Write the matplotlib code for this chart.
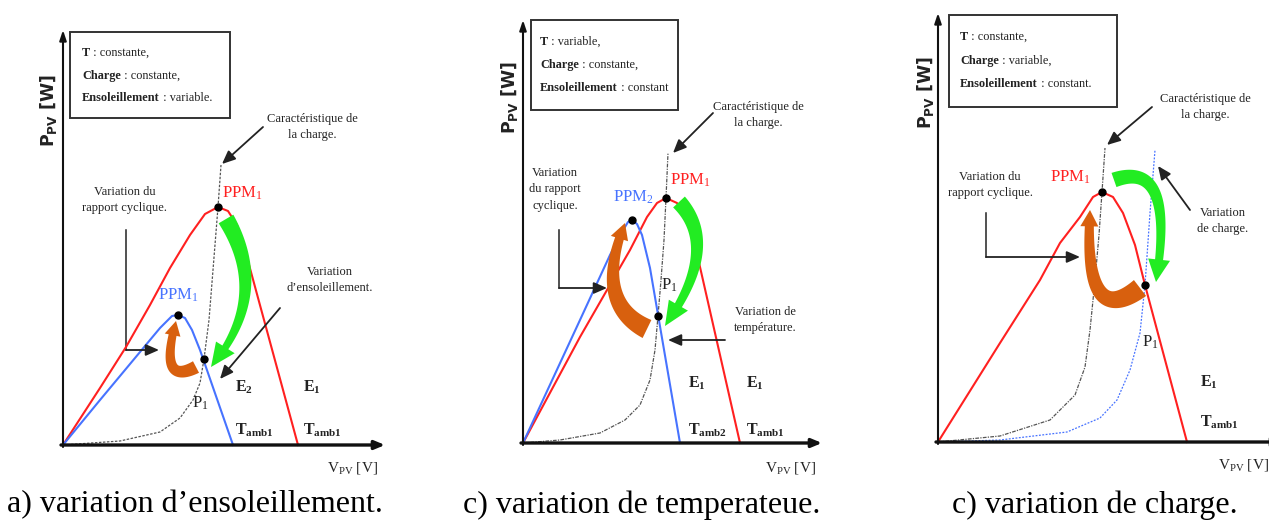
import numpy as np
import matplotlib
matplotlib.use("Agg")
import matplotlib.pyplot as plt
from matplotlib.patches import Rectangle

plt.rcParams["font.family"] = ["Liberation Serif", "DejaVu Serif"]
plt.rcParams["mathtext.fontset"] = "custom"
plt.rcParams["mathtext.rm"] = "Liberation Serif"
plt.rcParams["mathtext.it"] = "Liberation Serif:italic"
plt.rcParams["mathtext.bf"] = "Liberation Serif:bold"
plt.rcParams["mathtext.default"] = "regular"

W, H = 1269, 530

# ---- panel (a): irradiance change --------------------------------------
a_red_v = [0, 37, 63, 87, 107, 127, 142, 155, 165, 174, 182, 235]
a_red_p = [0, 57, 98, 140, 177, 210, 231, 238, 234, 220, 195, 0]
a_blue_v = [0, 37, 77, 97, 109, 115, 122, 129, 137, 170]
a_blue_p = [0, 45, 93, 117, 129, 130, 127, 115, 95, 0]
a_load_v = [0, 57, 97, 117, 130, 137, 141, 146, 150, 155, 158]
a_load_p = [0, 4, 13, 27, 45, 62, 86, 125, 175, 238, 280]

# ---- panel (b): temperature change -------------------------------------
b_red_v = [0, 57, 84, 107, 124, 134, 143, 154, 164, 172, 217]
b_red_p = [0, 106, 153, 193, 226, 240, 245, 240, 223, 198, 0]
b_blue_v = [0, 57, 87, 99, 105, 109, 114, 119, 127, 157]
b_blue_p = [0, 123, 188, 211, 221, 223, 219, 208, 175, 0]
b_load_v = [0, 37, 77, 102, 117, 127, 132, 135, 138, 141, 143, 145]
b_load_p = [0, 3, 10, 23, 38, 63, 93, 127, 163, 203, 245, 290]

# ---- panel (c): load change --------------------------------------------
c_red_v = [0, 62, 102, 122, 142, 155, 164, 175, 185, 197, 207, 249]
c_red_p = [0, 99, 162, 199, 225, 245, 250, 245, 229, 197, 157, 0]
c_load1_v = [0, 62, 112, 137, 147, 152, 157, 161, 164, 167]
c_load1_p = [0, 6, 22, 47, 75, 112, 162, 207, 250, 294]
c_load2_v = [0, 62, 129, 162, 179, 192, 202, 207, 212, 217]
c_load2_p = [0, 2, 10, 24, 42, 72, 109, 157, 229, 292]

captions = ["a) variation d\u2019ensoleillement.",
            "c) variation de temperateue.",
            "c) variation de charge."]
box_keys = ["T", "Charge", "Ensoleillement"]
box_vals = [[": constante,", ": constante,", ": variable."],
            [": variable,", ": constante,", ": constant"],
            [": constante,", ": variable,", ": constant."]]

RED = "#ff2020"
BLUE = "#4773ff"
GREEN = "#22ec22"
ORANGE = "#d8600e"
LOAD = "#555555"

fig = plt.figure(figsize=(W / 100, H / 100), dpi=100)


def panel_axes(x0, x1, ox, oy):
    ax = fig.add_axes([x0 / W, 0, (x1 - x0) / W, 1])
    ax.set_xlim(x0 - ox, x1 - ox)
    ax.set_ylim(oy - H, oy)
    ax.axis("off")
    return ax


def draw_axes(ax, vmax, pmax, ylab_xy, xlab_xy, cap_xy, caption):
    ax.annotate("", xy=(vmax, 0), xytext=(-2, 0), annotation_clip=False,
                arrowprops=dict(arrowstyle="-|>,head_length=0.6,head_width=0.25",
                                lw=2.4, color="#111111", shrinkA=0, shrinkB=0))
    ax.annotate("", xy=(0, pmax), xytext=(0, -2), annotation_clip=False,
                arrowprops=dict(arrowstyle="-|>,head_length=0.6,head_width=0.2",
                                lw=1.5, color="#111111", shrinkA=0, shrinkB=0))
    ax.text(*ylab_xy, r"P$_{PV}$ [W]", rotation=90, ha="center", va="center",
            fontsize=12.5, fontweight="bold", family=["DejaVu Sans"], color="#222222")
    ax.text(*xlab_xy, r"V$_{PV}$ [V]", ha="center", va="center", fontsize=11,
            color="#222222")
    ax.text(*cap_xy, caption, ha="center", va="center", fontsize=23, color="black")


def info_box(ax, left, bottom, right, top, x, ys, vals):
    ax.add_patch(Rectangle((left, bottom), right - left, top - bottom, fill=False,
                           lw=1.4, edgecolor="#333333"))
    for y, k, v in zip(ys, box_keys, vals):
        t = ax.text(x, y, k, fontweight="bold", fontsize=8.8, ha="left", va="center",
                    color="#222222")
        ax.annotate(" " + v, xy=(1, 0), xycoords=t, ha="left", va="bottom",
                    fontsize=8.8, color="#222222")


def pointer(ax, start, end):
    ax.annotate("", xy=end, xytext=start, annotation_clip=False,
                arrowprops=dict(arrowstyle="-|>,head_length=0.8,head_width=0.35",
                                lw=1.3, color="#222222", shrinkA=0, shrinkB=0))


def elbow_pointer(ax, top, corner, end):
    ax.plot([top[0], corner[0]], [top[1], corner[1]], color="#222222", lw=1.1)
    pointer(ax, corner, end)


def fat_arrow(ax, p0, ctrl, tip, w0, w1, hw, hl, color):
    p0, ctrl, tip = map(np.asarray, (p0, ctrl, tip))
    t = np.linspace(0, 1, 200)[:, None]
    pts = (1 - t) ** 2 * p0 + 2 * (1 - t) * t * ctrl + t ** 2 * tip
    seg = np.hypot(*np.diff(pts, axis=0).T)
    s = np.concatenate([[0], np.cumsum(seg)])
    keep = s <= s[-1] - hl
    body = pts[keep]
    d = np.gradient(body, axis=0)
    d /= np.hypot(d[:, 0], d[:, 1])[:, None]
    n = np.stack([-d[:, 1], d[:, 0]], axis=1)
    w = np.linspace(w0, w1, len(body))[:, None] / 2
    left = body + n * w
    right = body - n * w
    base, nb = body[-1], n[-1]
    head = [base + nb * hw / 2, tip, base - nb * hw / 2]
    poly = np.vstack([left, head, right[::-1]])
    ax.fill(poly[:, 0], poly[:, 1], color=color, lw=0, zorder=4)


lab = dict(ha="left", va="center", fontsize=12)
sm = dict(ha="center", va="center", fontsize=9, color="#222222", linespacing=1.5)
et = dict(ha="left", va="center", fontsize=11.5, fontweight="bold", color="#222222")

# ------------------------------ panel (a)
ax = panel_axes(0, 420, 63, 445)
ax.plot(a_load_v, a_load_p, color=LOAD, lw=0.9, ls=(0, (2, 1.2)), zorder=2)
ax.plot(a_red_v, a_red_p, color=RED, lw=1.5, zorder=3)
ax.plot(a_blue_v, a_blue_p, color=BLUE, lw=1.5, zorder=3)
draw_axes(ax, 322, 415, (-15, 335), (289, -23), (132, -60), captions[0])
info_box(ax, 7, 327, 167, 413, 19, [392, 369, 347], box_vals[0])
fat_arrow(ax, (163, 226), (208, 150), (148, 78), 17, 7, 22, 24, GREEN)
fat_arrow(ax, (133, 78), (95, 58), (113, 124), 13, 8, 16, 14, ORANGE)
ax.plot([a_red_v[7], a_blue_v[5], a_load_v[6]], [a_red_p[7], a_blue_p[5], a_load_p[6]],
        "o", color="black", ms=5, zorder=6)
ax.text(159, 252, r"PPM$_1$", color=RED, **lab)
ax.text(95, 150, r"PPM$_1$", color=BLUE, **lab)
ax.text(129, 42, r"P$_1$", color="#222222", **lab)
ax.text(172, 58, r"E$_2$", **et)
ax.text(240, 58, r"E$_1$", **et)
ax.text(172, 15, r"T$_{amb1}$", **et)
ax.text(240, 15, r"T$_{amb1}$", **et)
ax.text(249, 318, "Caractéristique de\nla charge.", **sm)
pointer(ax, (200, 318), (159, 281))
ax.text(62, 245, "Variation du\nrapport cyclique.", **sm)
elbow_pointer(ax, (63, 215), (63, 95), (96, 95))
ax.text(267, 165, "Variation\nd\u2019ensoleillement.", **sm)
pointer(ax, (217, 137), (157, 66))

# ------------------------------ panel (b)
ax = panel_axes(420, 850, 523, 443)
ax.plot(b_load_v, b_load_p, color=LOAD, lw=0.9, ls=(0, (3, 1, 1, 1)), zorder=2)
ax.plot(b_red_v, b_red_p, color=RED, lw=1.5, zorder=3)
ax.plot(b_blue_v, b_blue_p, color=BLUE, lw=1.5, zorder=3)
draw_axes(ax, 299, 423, (-13, 346), (267, -25), (119, -62), captions[1])
info_box(ax, 8, 333, 155, 423, 17, [401, 378, 355], box_vals[1])
fat_arrow(ax, (156, 241), (198, 196), (142, 117), 16, 8, 22, 24, GREEN)
fat_arrow(ax, (124, 114), (70, 140), (102, 220), 20, 9, 18, 16, ORANGE)
ax.plot([b_red_v[6], b_blue_v[5], b_load_v[7]], [b_red_p[6], b_blue_p[5], b_load_p[7]],
        "o", color="black", ms=5, zorder=6)
ax.text(147, 263, r"PPM$_1$", color=RED, **lab)
ax.text(90, 246, r"PPM$_2$", color=BLUE, **lab)
ax.text(138, 158, r"P$_1$", color="#222222", **lab)
ax.text(165, 60, r"E$_1$", **et)
ax.text(223, 60, r"E$_1$", **et)
ax.text(165, 13, r"T$_{amb2}$", **et)
ax.text(223, 13, r"T$_{amb1}$", **et)
ax.text(235, 328, "Caractéristique de\nla charge.", **sm)
pointer(ax, (190, 330), (150, 290))
ax.text(32, 254, "Variation\ndu rapport\ncyclique.", **sm)
elbow_pointer(ax, (36, 213), (36, 155), (84, 155))
ax.text(242, 123, "Variation de\ntempérature.", **sm)
pointer(ax, (202, 103), (145, 103))

# ------------------------------ panel (c)
ax = panel_axes(850, 1269, 938, 442)
ax.plot(c_load1_v, c_load1_p, color=LOAD, lw=0.9, ls=(0, (3, 1, 1, 1)), zorder=2)
ax.plot(c_load2_v, c_load2_p, color=BLUE, lw=0.9, ls=(0, (1.5, 1.2)), zorder=2)
ax.plot(c_red_v, c_red_p, color=RED, lw=1.5, zorder=3)
draw_axes(ax, 345, 429, (-13, 350), (305, -23), (157, -63), captions[2])
info_box(ax, 11, 335, 179, 427, 22, [405, 381, 358], box_vals[2])
fat_arrow(ax, (176, 262), (238, 284), (218, 160), 15, 8, 22, 22, GREEN)
fat_arrow(ax, (202, 154), (145, 110), (152, 232), 20, 9, 18, 16, ORANGE)
ax.plot([c_red_v[6], c_load2_v[7]], [c_red_p[6], c_load2_p[7]],
        "o", color="black", ms=5, zorder=6)
ax.text(112, 265, r"PPM$_1$", color=RED, **lab)
ax.text(204, 100, r"P$_1$", color="#222222", **lab)
ax.text(262, 60, r"E$_1$", **et)
ax.text(262, 20, r"T$_{amb1}$", **et)
ax.text(267, 335, "Caractéristique de\nla charge.", **sm)
pointer(ax, (214, 335), (169, 297))
ax.text(52, 257, "Variation du\nrapport cyclique.", **sm)
elbow_pointer(ax, (48, 229), (48, 185), (142, 185))
ax.text(285, 221, "Variation\nde charge.", **sm)
pointer(ax, (252, 232), (220, 276))

fig.savefig("out.png", dpi=100)
